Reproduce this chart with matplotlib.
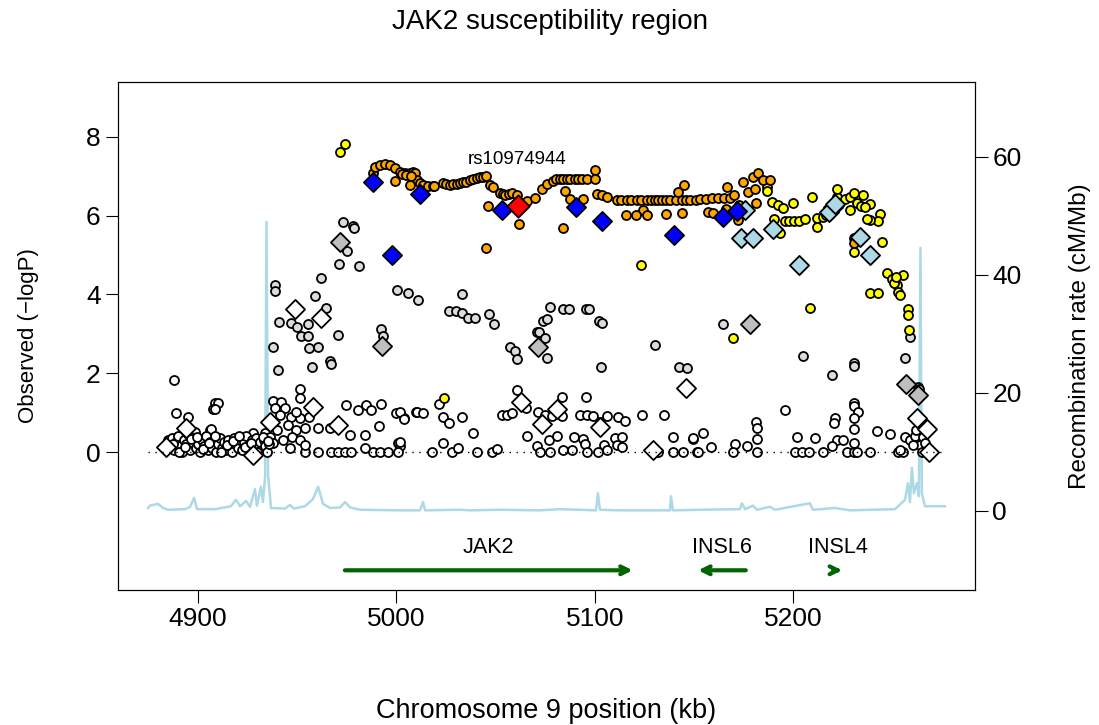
import matplotlib
matplotlib.use("Agg")
import matplotlib.pyplot as plt

plt.rcParams['font.family'] = ['Liberation Sans', 'DejaVu Sans']

# --- SNP data: position (kb) and -log10 P, grouped by LD class ---
orange_kb = [4988.3, 4989.2, 4991.7, 4994.2, 4996.7, 4999.2, 5001.8, 5004.3, 5006.8, 5008.3,
             5009.3, 5010.2, 5011.8, 5013.5, 5016.0, 5018.5, 4999.2, 5006.8, 5019.0, 5003.0,
             5005.0, 5007.5, 5023.6, 5025.0, 5027.0, 5028.5, 5030.3, 5032.0, 5033.6, 5035.0,
             5037.0, 5038.7, 5040.4, 5042.0, 5043.7, 5045.3, 5047.1, 5048.6, 5046.3, 5045.0,
             5052.1, 5053.5, 5054.7, 5056.5, 5058.2, 5060.7, 5061.7, 5063.5, 5065.7, 5069.8,
             5073.3, 5075.8, 5078.8, 5080.5, 5082.4, 5084.0, 5085.9, 5087.5, 5089.9, 5091.5,
             5093.5, 5096.0, 5100.0, 5100.0, 5084.9, 5087.4, 5094.0, 5083.9, 5101.0, 5103.5,
             5106.0, 5111.0, 5113.0, 5116.0, 5118.0, 5121.0, 5123.0, 5126.0, 5128.0, 5130.0,
             5132.0, 5134.0, 5136.0, 5138.0, 5141.0, 5144.0, 5146.0, 5148.0, 5151.0, 5153.0,
             5156.0, 5159.0, 5162.0, 5165.0, 5168.0, 5170.0, 5124.0, 5115.6, 5120.7, 5126.0,
             5136.0, 5144.0, 5144.8, 5141.8, 5156.9, 5159.5, 5166.0, 5166.5, 5172.6, 5172.0,
             5174.6, 5177.1, 5180.6, 5181.1, 5179.6, 5182.1, 5184.6, 5188.2, 5230.5, 5230.5]
orange_p = [7.07, 7.24, 7.28, 7.31, 7.28, 7.20, 7.11, 7.09, 7.07, 7.10,
            7.09, 6.90, 6.82, 6.78, 6.75, 6.75, 6.89, 6.78, 6.75, 7.05,
            7.02, 7.00, 6.82, 6.80, 6.78, 6.80, 6.80, 6.83, 6.84, 6.86,
            6.90, 6.92, 6.95, 6.97, 6.99, 7.00, 6.78, 6.73, 6.24, 5.18,
            6.57, 6.55, 6.52, 6.55, 6.57, 6.52, 5.79, 6.30, 6.37, 6.45,
            6.67, 6.80, 6.88, 6.92, 6.93, 6.93, 6.93, 6.93, 6.93, 6.93,
            6.93, 6.93, 7.16, 6.93, 6.62, 6.42, 6.42, 5.69, 6.55, 6.52,
            6.47, 6.40, 6.40, 6.40, 6.40, 6.40, 6.40, 6.40, 6.40, 6.40,
            6.40, 6.40, 6.40, 6.40, 6.40, 6.40, 6.40, 6.40, 6.40, 6.42,
            6.43, 6.44, 6.45, 6.45, 6.45, 6.52, 6.14, 6.02, 6.02, 6.02,
            6.04, 6.07, 6.78, 6.60, 6.09, 6.07, 6.17, 6.73, 6.27, 5.89,
            6.85, 6.60, 6.67, 6.32, 6.98, 7.08, 6.90, 6.90, 5.43, 5.30]

yellow_kb = [4971.5, 4974.0, 5023.9, 5123.0, 5186.7, 5186.7, 5189.2, 5192.2, 5194.7, 5199.8,
             5190.2, 5193.2, 5195.7, 5198.0, 5200.5, 5203.0, 5205.8, 5211.8, 5214.9, 5216.4,
             5219.4, 5220.9, 5221.9, 5221.9, 5209.3, 5211.8, 5222.9, 5226.0, 5228.5, 5230.5,
             5235.0, 5238.5, 5228.5, 5243.6, 5242.6, 5232.0, 5234.0, 5236.0, 5238.5, 5237.0,
             5230.5, 5244.6, 5247.1, 5249.6, 5255.2, 5252.1, 5252.7, 5253.7, 5238.5, 5242.6,
             5250.5, 5251.5, 5257.7, 5257.7, 5258.2, 5208.3, 5169.5]
yellow_p = [7.61, 7.82, 1.37, 4.75, 6.73, 6.62, 6.35, 6.27, 6.19, 6.32,
            5.91, 5.56, 5.86, 5.86, 5.86, 5.86, 5.91, 5.94, 5.96, 6.01,
            6.14, 6.27, 6.47, 6.67, 6.47, 5.71, 6.29, 6.42, 6.47, 6.57,
            6.52, 6.29, 6.14, 6.04, 5.86, 6.32, 6.25, 6.22, 5.89, 5.91,
            5.08, 5.33, 4.54, 4.39, 4.49, 4.24, 4.06, 3.98, 4.04, 4.04,
            4.30, 4.45, 3.63, 3.48, 3.10, 3.65, 2.89]

lgray_kb = [4973.0, 4978.1, 4978.6, 4975.1, 4971.0, 4981.1, 4962.0, 4938.8, 4938.8, 4958.9,
            4964.5, 4940.8, 4946.9, 4949.9, 4955.4, 4951.9, 4955.4, 4970.5, 4960.5, 4955.9,
            4966.5, 4967.0, 4957.4, 4937.8, 4940.3, 4992.2, 4993.2, 5000.3, 5005.8, 5010.8,
            5033.0, 5026.5, 5030.0, 5033.0, 5036.0, 5039.5, 5046.6, 5049.1, 5070.8, 5071.8,
            5073.8, 5075.8, 5074.8, 5057.2, 5059.7, 5060.7, 5075.8, 5077.3, 5083.9, 5086.9,
            5095.5, 5097.0, 5102.0, 5103.5, 5103.0, 5130.2, 5142.3, 5146.4, 5164.5, 5204.8,
            5256.2, 5230.5, 5230.5, 5219.4, 5258.7, 5262.7, 5263.2]
lgray_p = [5.84, 5.74, 5.69, 5.10, 4.77, 4.72, 4.42, 4.24, 4.09, 3.96,
           3.65, 3.30, 3.27, 3.17, 3.25, 2.94, 2.94, 2.97, 2.66, 2.64,
           2.31, 2.23, 2.16, 2.66, 2.08, 3.12, 2.94, 4.11, 4.04, 3.86,
           4.01, 3.58, 3.58, 3.53, 3.40, 3.40, 3.50, 3.25, 3.05, 3.05,
           3.32, 3.38, 2.89, 2.66, 2.56, 2.36, 2.39, 3.68, 3.63, 3.63,
           3.63, 3.63, 3.32, 3.27, 2.16, 2.72, 2.16, 2.13, 3.25, 2.44,
           2.39, 2.26, 2.18, 1.95, 2.92, 1.65, 1.60]

white_kb = [4887.9, 4908.6, 4910.1, 4907.6, 4908.6, 4888.9, 4895.0, 4937.8, 4941.8, 4943.8,
            4938.8, 4946.9, 4951.4, 4951.4, 4974.6, 4980.6, 4984.6, 4987.2, 4992.2, 4999.8,
            5003.8, 5009.8, 4906.0, 4927.7, 4933.8, 4953.9, 4960.5, 4966.5, 4976.6, 4984.1,
            4991.2, 5000.8, 5001.8, 4953.9, 4960.5, 4967.0, 4970.5, 4974.1, 4977.1, 4988.2,
            4991.7, 4995.7, 5000.8, 4984.1, 4941.3, 4945.3, 4949.4, 4936.3, 4942.8, 4947.4,
            4951.4, 4939.8, 4953.9, 4946.3, 4932.2, 4951.4, 4955.9, 4949.4, 4891.0, 4898.5,
            4906.5, 4937.8,
            # dense cluster left of the recombination hotspot
            4885, 4886, 4887, 4888, 4889, 4890, 4891, 4892, 4893, 4894,
            4895, 4896, 4897, 4898, 4899, 4900, 4901, 4902, 4903, 4904,
            4905, 4906, 4907, 4908, 4909, 4910, 4911, 4912, 4913, 4914,
            4915, 4916, 4917, 4918, 4919, 4920, 4921, 4922, 4923, 4924,
            4925, 4926, 4927, 4928, 4929, 4930, 4931, 4932, 4933, 4934,
            4935, 4936, 4884.5, 4887.5, 4890.5, 4893.5, 4896.5, 4899.5, 4902.5, 4905.5,
            4908.5, 4911.5, 4914.5, 4917.5, 4920.5, 4923.5, 4926.5, 4929.5, 4932.5, 4935.5,
            # middle region
            5001.8, 5003.8, 5010.3, 5013.4, 5023.4, 5026.5, 5033.0, 5053.2, 5055.7, 5058.2,
            5065.2, 5071.3, 5074.8, 5078.3, 5080.9, 5083.4, 5092.4, 5096.0, 5099.0, 5102.5,
            5106.0, 5111.6, 5115.1, 5123.7, 5134.8, 5021.4, 5060.7, 5083.4, 5095.5, 5038.5,
            5065.7, 5023.4, 5076.8, 5080.9, 5089.4, 5094.0, 5095.0, 5104.5, 5110.1, 5113.6,
            5111.1, 5139.3, 5149.4, 5001.8, 5070.8, 5017.9, 5028.0, 5031.0, 5040.6, 5048.1,
            5050.6, 5072.3, 5077.3, 5083.9, 5088.4, 5096.0, 5101.5, 5106.0, 5113.6, 5131.7,
            5139.3, 5144.3, 5151.4,
            # right region
            5195.7, 5230.5, 5230.5, 5232.5, 5230.5, 5220.9, 5220.4, 5230.5, 5242.1, 5248.6,
            5181.1, 5181.6, 5154.4, 5149.4, 5201.8, 5210.8, 5221.9, 5225.0, 5230.5, 5181.6,
            5170.5, 5176.6, 5158.5, 5151.9, 5169.5, 5181.6, 5200.8, 5204.3, 5207.8, 5214.9,
            5219.4, 5227.0, 5230.5, 5232.0, 5238.5, 5252.7, 5255.2, 5256.2, 5258.7, 5261.2,
            5263.7, 5265.3, 5266.3, 5260.2, 5253.7, 5261.7, 5264.7]
white_p = [1.83, 1.24, 1.24, 1.09, 1.09, 0.99, 0.89, 1.29, 1.27, 1.12,
           1.12, 0.89, 1.60, 1.37, 1.19, 1.07, 1.19, 1.07, 1.22, 0.99,
           0.86, 1.02, 0.56, 0.48, 0.48, 0.61, 0.61, 0.61, 0.43, 0.43,
           0.66, 0.23, 0.15, 0.00, 0.00, 0.00, 0.00, 0.00, 0.00, 0.00,
           0.00, 0.00, 0.00, 0.10, 0.94, 0.69, 0.56, 0.38, 0.30, 0.38,
           0.30, 0.56, 0.18, 0.10, 0.18, 0.86, 0.89, 1.02, 0.38, 0.51,
           0.58, 0.23,
           0.30, 0.10, 0.35, 0.05, 0.25, 0.40, 0.15, 0.00, 0.30, 0.20,
           0.45, 0.05, 0.25, 0.35, 0.10, 0.20, 0.00, 0.30, 0.15, 0.40,
           0.05, 0.25, 0.10, 0.30, 0.00, 0.20, 0.35, 0.10, 0.25, 0.05,
           0.30, 0.15, 0.00, 0.35, 0.20, 0.10, 0.30, 0.05, 0.25, 0.40,
           0.15, 0.00, 0.30, 0.20, 0.35, 0.10, 0.25, 0.05, 0.30, 0.15,
           0.00, 0.20, 0.15, 0.20, 0.00, 0.12, 0.32, 0.38, 0.08, 0.22,
           0.42, 0.00, 0.18, 0.28, 0.40, 0.12, 0.22, 0.00, 0.38, 0.28,
           1.02, 0.84, 1.02, 0.99, 0.89, 0.74, 0.89, 0.94, 0.94, 0.99,
           1.12, 1.02, 0.94, 0.91, 1.07, 0.91, 0.94, 0.94, 0.91, 0.76,
           0.91, 0.89, 0.79, 0.94, 0.94, 1.22, 1.57, 1.40, 1.40, 0.48,
           0.41, 0.23, 0.30, 0.41, 0.38, 0.33, 0.20, 0.18, 0.36, 0.38,
           0.18, 0.38, 0.33, 0.25, 0.15, 0.00, 0.00, 0.10, 0.00, 0.00,
           0.08, 0.00, 0.00, 0.05, 0.05, 0.00, 0.00, 0.05, 0.13, 0.00,
           0.00, 0.00, 0.00,
           1.07, 1.24, 1.17, 1.02, 0.86, 0.86, 0.74, 0.58, 0.53, 0.46,
           0.76, 0.61, 0.48, 0.36, 0.38, 0.36, 0.30, 0.30, 0.23, 0.33,
           0.20, 0.15, 0.13, 0.00, 0.00, 0.00, 0.00, 0.00, 0.00, 0.00,
           0.15, 0.00, 0.00, 0.00, 0.00, 0.00, 0.00, 0.38, 0.30, 0.41,
           0.18, 0.38, 0.23, 0.18, 0.05, 0.56, 0.00]

# diamonds (genotyped SNPs)
blue_d_kb = [4988.2, 4997.7, 5011.8, 5053.0, 5090.4, 5103.5, 5139.8, 5164.5, 5171.5]
blue_d_p = [6.85, 5.00, 6.55, 6.14, 6.22, 5.86, 5.51, 5.96, 6.12]

ltblue_d_kb = [5175.6, 5173.5, 5179.6, 5189.7, 5203.0, 5219.9, 5218.0, 5221.0, 5233.5, 5238.5]
ltblue_d_p = [6.14, 5.43, 5.43, 5.66, 4.75, 6.22, 6.10, 6.30, 5.46, 5.00]

gray_d_kb = [4971.5, 4992.7, 5071.3, 5178.0, 5256.7, 5262.7]
gray_d_p = [5.33, 2.69, 2.67, 3.25, 1.73, 1.45]

white_d_kb = [4948.9, 4962.0, 4936.3, 4970.5, 4894.0, 4957.9, 4883.9, 5080.9, 5073.3, 5102.5,
              5129.2, 5062.7, 5145.9, 5262.2, 5267.3, 5268.3, 4927.7]
white_d_p = [3.63, 3.40, 0.76, 0.69, 0.61, 1.14, 0.13, 1.09, 0.71, 0.63,
             0.05, 1.27, 1.62, 0.86, 0.58, 0.00, -0.08]

top_snp_kb = 5061.0
top_snp_p = 6.24
top_snp_name = "rs10974944"

# recombination rate (cM/Mb)
recomb_kb = [4874.8, 4875.8, 4879.8, 4882.4, 4884.9, 4893.5, 4896.0, 4898.0, 4899.5, 4908.6,
             4916.6, 4919.1, 4921.2, 4924.2, 4926.2, 4928.7, 4929.7, 4931.7, 4932.7, 4933.8,
             4934.5, 4935.3, 4936.8, 4943.8, 4946.3, 4948.4, 4953.9, 4957.9, 4960.5, 4963.0,
             4966.5, 4971.5, 4974.1, 4976.6, 4981.6, 5001.8, 5011.8, 5013.4, 5014.4, 5032.0,
             5037.0, 5052.1, 5072.3, 5082.4, 5100.5, 5101.5, 5102.5, 5112.6, 5137.8, 5138.3,
             5139.3, 5152.9, 5173.0, 5174.0, 5175.6, 5179.6, 5181.6, 5188.2, 5190.7, 5208.3,
             5209.8, 5220.9, 5228.5, 5251.2, 5256.2, 5257.7, 5258.7, 5259.7, 5260.7, 5262.2,
             5263.2, 5264.0, 5264.7, 5266.3, 5276.3]
recomb_rate = [0.5, 0.9, 1.2, 0.5, 0.2, 0.3, 0.7, 2.2, 0.3, 0.3,
               0.8, 1.9, 0.8, 1.7, 0.7, 3.7, 0.9, 4.1, 1.5, 5.8,
               49.0, 6.0, 0.5, 0.4, 1.0, 0.4, 0.8, 2.0, 4.1, 1.2,
               0.5, 0.6, 1.5, 0.6, 0.2, 0.1, 0.1, 1.5, 0.1, 0.2,
               0.1, 0.2, 0.1, 0.3, 0.1, 3.0, 0.2, 0.1, 0.1, 2.5,
               0.1, 0.2, 0.3, 1.3, 0.3, 0.9, 0.2, 0.7, 0.2, 1.3,
               0.2, 0.5, 0.1, 0.3, 1.9, 4.7, 1.5, 7.3, 3.0, 4.7,
               2.5, 44.6, 3.0, 0.8, 0.8]

# genes: name, start, end, strand
gene_names = ["JAK2", "INSL6", "INSL4"]
gene_start = [4974.0, 5152.0, 5220.0]
gene_end = [5119.0, 5176.0, 5224.5]
gene_strand = [1, -1, 1]

fig = plt.figure(figsize=(10.99, 7.25), dpi=100)
ax = fig.add_axes([0.1074, 0.1862, 0.7798, 0.7007])
ax2 = ax.twinx()

ax2.plot(recomb_kb, recomb_rate, color="#add8e6", lw=1.8, zorder=1)
ax2.set_ylim(-13.4, 72.7)
ax2.set_yticks([0, 20, 40, 60])

ax.set_zorder(ax2.get_zorder() + 1)
ax.patch.set_visible(False)

ax.plot([4875, 5276], [0, 0], color="black", lw=1, ls=(0, (1, 4)))

circ = dict(marker="o", s=42, edgecolors="black", linewidths=1.3)
ax.scatter(white_kb, white_p, c="white", **circ)
ax.scatter(lgray_kb, lgray_p, c="#dcdcdc", **circ)
ax.scatter(yellow_kb, yellow_p, c="yellow", **circ)
ax.scatter(orange_kb, orange_p, c="orange", **circ)

dia = dict(marker="D", s=95, edgecolors="black", linewidths=1.3)
ax.scatter(white_d_kb, white_d_p, c="white", **dia)
ax.scatter(gray_d_kb, gray_d_p, c="#bebebe", **dia)
ax.scatter(ltblue_d_kb, ltblue_d_p, c="#add8e6", **dia)
ax.scatter(blue_d_kb, blue_d_p, c="blue", **dia)
ax.scatter([top_snp_kb], [top_snp_p], c="red", marker="D", s=130,
           edgecolors="black", linewidths=1.3)
ax.text(top_snp_kb, 7.42, top_snp_name, ha="center", va="center", fontsize=13.5)

for name, s, e, strand in zip(gene_names, gene_start, gene_end, gene_strand):
    a, b = (s, e) if strand > 0 else (e, s)
    ax.annotate("", xy=(b, -3.0), xytext=(a, -3.0),
                arrowprops=dict(arrowstyle="->", lw=3, color="darkgreen",
                                mutation_scale=14, shrinkA=0, shrinkB=0))
    ax.text((s + e) / 2, -2.42, name, ha="center", va="center", fontsize=15.5)

ax.set_xlim(4859.7, 5291.5)
ax.set_ylim(-3.5, 9.39)
ax.set_xticks([4900, 5000, 5100, 5200])
ax.set_yticks([0, 2, 4, 6, 8])
ax.tick_params(labelsize=19, length=9)
ax2.tick_params(labelsize=19, length=9)

ax.set_xlabel("Chromosome 9 position (kb)", fontsize=19.5, labelpad=48)
ax.set_ylabel("Observed (\u2212logP)", fontsize=16, labelpad=34)
ax2.set_ylabel("Recombination rate (cM/Mb)", fontsize=17.5, labelpad=34)
fig.suptitle("JAK2 susceptibility region", fontsize=20, y=0.988)

fig.savefig("out.png", dpi=100)
